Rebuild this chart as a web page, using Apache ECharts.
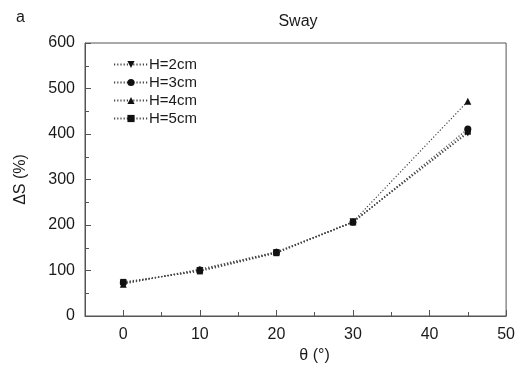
<!DOCTYPE html>
<html><head><meta charset="utf-8">
<script src="https://cdn.jsdelivr.net/npm/echarts@6/dist/echarts.min.js"></script>
<style>html,body{margin:0;padding:0;background:#fff}#c{width:518px;height:372px}</style>
</head><body><div id="c"></div>
<script>
const theta = [0, 10, 20, 30, 45];
const seriesNames = ['H=2cm', 'H=3cm', 'H=4cm', 'H=5cm'];
const h2 = [72, 100, 139, 207, 402];
const h3 = [73, 101, 140, 206, 411];
const h4 = [70, 103, 141, 207, 472];
const h5 = [75, 98, 138, 206, 405];
const xMajorTicks = [0, 10, 20, 30, 40, 50];
const xMinorTicks = [5, 15, 25, 35, 45];

const symbols = ['triangle', 'circle', 'triangle', 'rect'];
const rotations = [180, 0, 0, 0];
const sizes = [7, 7, 7, 6];
const values = [h2, h3, h4, h5];
const font = 'Liberation Sans, Arial, sans-serif';
const axisColor = '#555';
const textColor = '#1a1a1a';

const chart = echarts.init(document.getElementById('c'), null, {renderer: 'canvas'});
chart.setOption({
  animation: false,
  backgroundColor: '#fff',
  title: [
    {text: 'Sway', left: 293, top: 9, textAlign: 'center',
     textStyle: {fontFamily: font, fontSize: 16, fontWeight: 'normal', color: textColor}},
    {text: 'a', left: 11, top: 5,
     textStyle: {fontFamily: font, fontSize: 16, fontWeight: 'normal', color: textColor}}
  ],
  legend: {
    orient: 'vertical', left: 108, top: 52, itemWidth: 34, itemHeight: 9, itemGap: 3,
    textStyle: {fontFamily: font, fontSize: 15, color: textColor, padding: [0, 0, 0, -4]},
    data: seriesNames
  },
  grid: {left: 85, right: 8, top: 43, bottom: 56, show: true, borderColor: axisColor, borderWidth: 1},
  xAxis: [{
    type: 'value', min: -5, max: 50,
    name: 'θ (°)', nameLocation: 'middle', nameGap: 30,
    nameTextStyle: {fontFamily: font, fontSize: 16, color: textColor, padding: [0, 0, 0, 38]},
    axisLine: {show: true, onZero: false, lineStyle: {color: axisColor}},
    axisTick: {show: true, inside: true, length: 6, customValues: xMajorTicks, lineStyle: {color: axisColor}},
    axisLabel: {customValues: xMajorTicks, fontFamily: font, fontSize: 16, color: textColor, margin: 11},
    splitLine: {show: false}
  }, {
    type: 'value', min: -5, max: 50, position: 'bottom',
    axisLine: {show: false, onZero: false},
    axisTick: {show: true, inside: true, length: 4, customValues: xMinorTicks, lineStyle: {color: axisColor}},
    axisLabel: {show: false},
    splitLine: {show: false}
  }],
  yAxis: {
    type: 'value', min: 0, max: 600, interval: 100,
    name: 'ΔS (%)', nameLocation: 'middle', nameGap: 56, nameRotate: 90,
    nameTextStyle: {fontFamily: font, fontSize: 16, color: textColor},
    axisLine: {show: true, onZero: false, lineStyle: {color: axisColor}},
    axisTick: {show: true, inside: true, length: 6, lineStyle: {color: axisColor}},
    minorTick: {show: true, splitNumber: 2, length: 4, lineStyle: {color: axisColor}},
    axisLabel: {fontFamily: font, fontSize: 16, color: textColor, margin: 10},
    splitLine: {show: false}
  },
  series: seriesNames.map((n, i) => ({
    name: n, type: 'line',
    data: theta.map((t, j) => [t, values[i][j]]),
    symbol: symbols[i], symbolRotate: rotations[i], symbolSize: sizes[i],
    itemStyle: {color: '#111'},
    lineStyle: {color: '#444', width: 1.2, type: [1.2, 2]},
    z: 3 + i
  }))
});
</script></body></html>
